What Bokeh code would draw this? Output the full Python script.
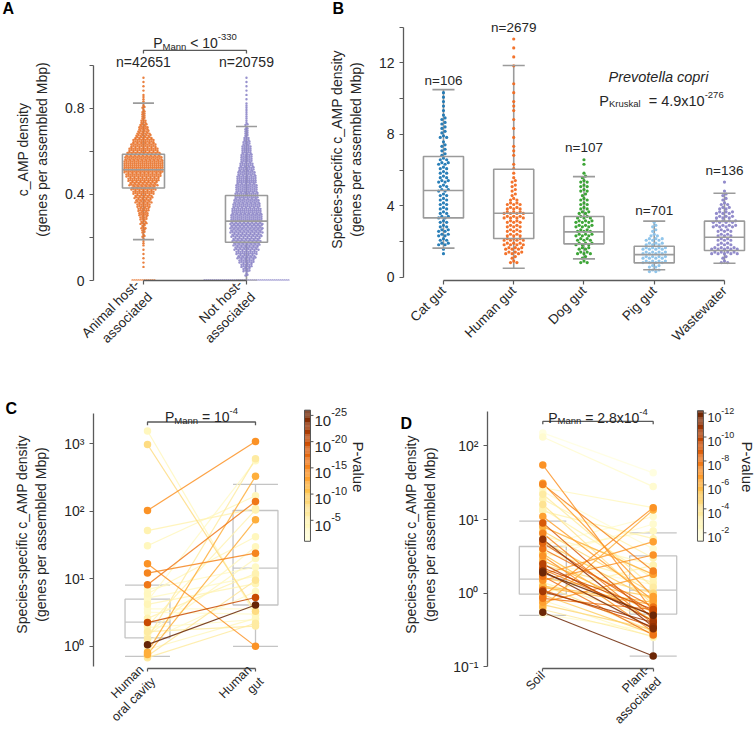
import math
import numpy as np
from bokeh.plotting import figure
from bokeh.models import Range1d, FixedTicker, ColumnDataSource, LinearScale
from bokeh.layouts import row, column
from bokeh.embed import file_html
from bokeh.resources import INLINE
from bokeh.core.properties import value
from bokeh.transform import linear_cmap

FONT = "Liberation Sans"
TXT = "#262626"
AXC = "#5a5a5a"
BOXC = "#9b9b9b"
BOXC_LIGHT = "#c4c4c4"

# ---------------- Panel A data ----------------
A_groups = ["Animal host-\nassociated", "Not host-\nassociated"]
A_n = ["n=42651", "n=20759"]
A_colors = ["#e8722a", "#8c85c8"]
A_bin_start = 0.02
A_bin_width = 0.02
A_animal_counts = [0, 0, 1, 1, 1, 1, 1, 2, 2, 3, 4, 5, 7, 8, 10, 12, 14, 17, 19, 22, 25, 29, 32, 36,
                   40, 40, 40, 38, 35, 30, 26, 22, 17, 13, 10, 7, 5, 4, 3, 3, 2, 2, 1, 1, 1, 1, 1]
A_not_counts = [3, 8, 12, 16, 19, 22, 25, 27, 29, 31, 33, 33, 33, 32, 31, 30, 28, 26, 24, 23, 22, 21, 20, 19,
                17, 15, 13, 12, 11, 10, 9, 7, 5, 4, 3, 3, 2, 2, 2, 2, 1, 1, 1, 1, 1, 1, 1]
A_zero_counts = [12, 43]
A_q1 = [0.43, 0.178]
A_med = [0.515, 0.276]
A_q3 = [0.587, 0.395]
A_lo = [0.19, 0.0]
A_hi = [0.825, 0.716]
A_yticks = [0, 0.2, 0.4, 0.6, 0.8, 1]
A_ylabels = ["0", "", "0.4", "", "0.8", ""]

# ---------------- Panel B data ----------------
B_groups = ["Cat gut", "Human gut", "Dog gut", "Pig gut", "Wastewater"]
B_n = ["n=106", "n=2679", "n=107", "n=701", "n=136"]
B_colors = ["#1f78b4", "#f26b21", "#33a02c", "#8ac2ea", "#8c85c8"]
B_bin_start = 0.25
B_bin_width = 0.5
B_counts = [
    [0, 0, 2, 7, 8, 6, 7, 6, 6, 7, 7, 6, 7, 4, 3, 5, 4, 3, 2, 2, 1],
    [0, 5, 12, 14, 10, 10, 14, 10, 5, 4, 3, 2, 1, 2, 1, 1, 1, 1, 2, 1, 1, 1, 0, 1, 1, 1, 1],
    [0, 5, 9, 11, 11, 12, 9, 6, 5, 6, 5, 1, 2],
    [8, 16, 16, 12, 5, 3],
    [0, 5, 18, 10, 10, 16, 12, 7, 4, 1, 1],
]
B_q1 = [3.33, 2.18, 1.88, 0.82, 1.51]
B_med = [4.86, 3.59, 2.55, 1.28, 2.25]
B_q3 = [6.76, 6.05, 3.41, 1.75, 3.15]
B_lo = [1.64, 0.52, 1.04, 0.43, 0.80]
B_hi = [10.5, 11.85, 5.64, 3.15, 4.71]
B_yticks = [0, 2, 4, 6, 8, 10, 12, 14]
B_ylabels = ["0", "", "4", "", "8", "", "12", ""]

# ---------------- Panel C data ----------------
C_groups = ["Human\noral cavity", "Human\ngut"]
C_oral = [1550, 980, 103, 52, 31, 16.8, 12.2, 8.2, 7.0, 6.0, 5.2, 4.7, 4.2, 3.2, 2.6,
          2.25, 1.9, 1.65, 1.45, 1.3, 1.06, 0.82, 0.76, 0.72, 0.68, 1.2, 1.55, 3.6, 2.0, 0.9]
C_gut = [2.9, 3.3, 1080, 110, 170, 1.0, 24, 140, 15, 42, 11, 560, 8.5, 3.0, 12,
         5.3, 2.5, 2.0, 20, 600, 4.1, 330, 75, 9.5, 2.2, 6.5, 30, 3.6, 105, 2.6]
C_nlog10p = [4, 8, 14, 5, 4, 14, 15, 16, 3.5, 4, 3.5, 3.5, 4.5, 3, 5,
             20, 3.5, 6, 4, 6, 26, 12, 12, 7, 6, 3.5, 4, 3, 5, 4]
C_q1 = [1.34, 4.1]
C_med = [2.29, 14.4]
C_q3 = [5.0, 103]
C_lo = [0.71, 1.0]
C_hi = [8.07, 252]
C_yticks = [1, 10, 100, 1000]
C_ylabels = ["10⁰", "10¹", "10²", "10³"]
C_cbar_ticks = [5, 10, 15, 20, 25]
C_cbar_range = [1.0, 26.0]

# ---------------- Panel D data ----------------
D_groups = ["Soil", "Plant-\nassociated"]
D_soil = [150, 132, 55, 31, 27, 22, 19, 16, 13, 9.0, 8.0, 6.5, 6.0, 5.4, 5.0, 4.5, 4.0, 3.6, 3.2, 3.0,
          2.8, 2.5, 2.4, 2.2, 2.0, 1.9, 1.8, 1.7, 1.6, 1.5, 1.4, 1.3, 1.2, 1.1, 1.05, 1.0, 0.95, 0.9,
          0.85, 0.8, 0.75, 0.7, 0.65, 0.6, 0.55, 0.52, 3.4, 2.6, 7.0, 11, 24, 14, 4.8, 3.8, 2.1, 1.25, 30]
D_plant = [43, 28, 0.56, 0.9, 14.5, 1.2, 3.0, 0.7, 5.5, 0.45, 1.8, 0.38, 2.4, 0.35, 0.8, 11, 0.65,
           1.4, 0.3, 8.7, 0.55, 0.42, 1.0, 0.6, 0.33, 0.5, 5.0, 0.27, 0.9, 3.3, 0.45, 0.3, 0.7, 0.35,
           0.4, 2.4, 0.28, 14.5, 0.6, 0.25, 1.8, 0.32, 13.5, 0.26, 0.14, 0.3, 0.42, 1.3, 1.0, 0.8,
           4.0, 1.6, 0.55, 7.0, 0.5, 0.75, 2.0]
D_nlog10p = [1.5, 2.0, 7.0, 6.5, 2.5, 3.5, 3.0, 4.0, 3.0, 9.0, 6.0, 7.5, 2.5, 11.0, 5.0, 2.0, 8.0,
             3.0, 7.0, 2.0, 6.0, 10.0, 4.0, 9.5, 11.5, 12.0, 6.5, 8.0, 5.0, 7.0, 3.0, 4.0, 6.0, 9.0,
             10.5, 3.0, 5.0, 7.0, 8.0, 2.5, 6.5, 4.5, 6.0, 3.5, 12.0, 2.0, 5.5, 2.0, 4.5, 6.5,
             2.0, 3.0, 8.5, 2.5, 7.5, 5.5, 7.5]
D_q1 = [0.97, 0.52]
D_med = [1.55, 1.1]
D_q3 = [4.3, 3.2]
D_lo = [0.5, 0.14]
D_hi = [9.5, 6.6]
D_yticks = [0.1, 1, 10, 100]
D_ylabels = ["10⁻¹", "10⁰", "10¹", "10²"]
D_cbar_ticks = [2, 4, 6, 8, 10, 12]
D_cbar_range = [1.3, 12.2]

# ---------------- helpers ----------------
YLORBR = ["#ffffe5", "#fff7bc", "#fee391", "#fec44f", "#fe9929", "#ec7014", "#cc4c02", "#993404", "#662506"]


def interp_palette(cols, n):
    rgb = np.array([[int(c[i:i + 2], 16) for i in (1, 3, 5)] for c in cols], dtype=float)
    pos = np.linspace(0, 1, len(cols))
    out = []
    for t in np.linspace(0, 1, n):
        r = [np.interp(t, pos, rgb[:, k]) for k in range(3)]
        out.append("#%02x%02x%02x" % tuple(int(round(v)) for v in r))
    return out


PAL = interp_palette(YLORBR, 256)

CW = {' ': .278, '=': .584, '<': .584, 'x': .5, '.': .278, '-': .333, 'P': .667, 'M': .833,
      'a': .556, 'n': .556, 'K': .667, 'r': .333, 'u': .556, 's': .5, 'k': .5, 'l': .222}


def tw(t, size):
    return sum(CW.get(c, 0.556) for c in t) * size


def rich(p, x, y, pieces, align="center", y_range_name="default"):
    total = sum(tw(t, s) for t, s, _ in pieces)
    cur = -total / 2 if align == "center" else 0.0
    for t, s, dy in pieces:
        lead = len(t) - len(t.lstrip(" "))
        cur += tw(" " * lead, s)
        t2 = t.lstrip(" ")
        p.text(x=[x], y=[y], text=[t2], x_offset=cur, y_offset=dy, text_font_size="%gpx" % s,
               text_font=value(FONT), text_color=TXT, text_align="left", text_baseline="alphabetic",
               y_range_name=y_range_name)
        cur += tw(t2, s)


def swarm(center, counts, start, bw, dx, rows):
    xs, ys = [], []
    for i, c in enumerate(counts):
        lo = start + i * bw
        for r in range(rows):
            k = c // rows + (1 if r < c % rows else 0)
            yy = lo + (r + 0.5) * bw / rows
            for j in range(k):
                xs.append(center + (j - (k - 1) / 2) * dx)
                ys.append(yy + ((j % 2) - 0.5) * bw / rows * 0.35)
    return xs, ys


def make_fig(w, h, xr, yr, mb, letter, letter_offset, letter_standoff, valign="bottom", log=False):
    p = figure(width=w, height=h, x_range=Range1d(*xr), y_range=Range1d(*yr),
               y_axis_type="log" if log else "linear",
               min_border_left=mb[0], min_border_right=mb[1], min_border_top=mb[2], min_border_bottom=mb[3],
               output_backend="svg", toolbar_location=None)
    p.outline_line_color = None
    p.xgrid.visible = False
    p.ygrid.visible = False
    p.background_fill_color = "white"
    p.border_fill_color = "white"
    p.title.text = letter
    p.title.align = "left"
    p.title.vertical_align = valign
    p.title.offset = letter_offset
    p.title.standoff = letter_standoff
    p.title.text_font = FONT
    p.title.text_font_size = "16px"
    p.title.text_font_style = "bold"
    p.title.text_color = "black"
    for ax in p.axis:
        ax.axis_line_color = AXC
        ax.axis_line_width = 1.3
        ax.major_tick_line_color = AXC
        ax.major_tick_line_width = 1.2
        ax.major_tick_out = 4
        ax.major_tick_in = 0
        ax.minor_tick_line_color = None
        ax.major_label_text_font = FONT
        ax.major_label_text_font_size = "14px"
        ax.major_label_text_color = TXT
        ax.axis_label_text_font = FONT
        ax.axis_label_text_font_size = "14px"
        ax.axis_label_text_font_style = "normal"
        ax.axis_label_text_color = TXT
        ax.major_label_standoff = 5
        ax.axis_label_standoff = 12
    return p


def setup_axes(p, groups, ybounds, yticks, ylabels, ytitle, fs="13.5px", standoff=4, tick_out=4):
    n = len(groups)
    p.xaxis.ticker = FixedTicker(ticks=list(range(n)))
    p.xaxis.major_label_overrides = {i: s for i, s in enumerate(groups)}
    p.xaxis.major_label_orientation = math.pi / 4
    p.xaxis.major_label_text_font_size = fs
    p.xaxis.major_label_standoff = standoff
    p.xaxis.major_tick_out = tick_out
    p.xaxis.bounds = (0, n - 1)
    p.yaxis.ticker = FixedTicker(ticks=yticks)
    p.yaxis.major_label_overrides = dict(zip(yticks, ylabels))
    p.yaxis.bounds = ybounds
    p.yaxis.axis_label = ytitle


def bracket(p, y, ytick):
    p.line(x=[0, 0, 1, 1], y=[ytick, y, y, ytick], line_color=AXC, line_width=1.3)


def boxes(p, q1, med, q3, lo, hi, hw, cw, color, lw, whisk=True, body=True):
    n = len(q1)
    xs = list(range(n))
    if whisk:
        p.segment(x0=xs, y0=q3, x1=xs, y1=hi, line_color=color, line_width=lw)
        p.segment(x0=xs, y0=q1, x1=xs, y1=lo, line_color=color, line_width=lw)
    if body:
        p.quad(left=[x - hw for x in xs], right=[x + hw for x in xs], bottom=q1, top=q3,
               fill_color=None, line_color=color, line_width=lw)
        p.segment(x0=[x - hw for x in xs], y0=med, x1=[x + hw for x in xs], y1=med,
                  line_color=color, line_width=lw)
        p.segment(x0=[x - cw for x in xs], y0=hi, x1=[x + cw for x in xs], y1=hi,
                  line_color=color, line_width=lw)
        p.segment(x0=[x - cw for x in xs], y0=lo, x1=[x + cw for x in xs], y1=lo,
                  line_color=color, line_width=lw)


def colorbar(p, x0, x1, lo, hi, ticks, px_unit_x, fs, sfs):
    v = np.linspace(lo, hi, 121)
    src = ColumnDataSource(dict(b=v[:-1], t=v[1:], v=(v[:-1] + v[1:]) / 2))
    p.quad(left=x0, right=x1, bottom="b", top="t", source=src,
           fill_color=linear_cmap("v", PAL, lo, hi), line_color=None, y_range_name="cb")
    p.quad(left=[x0], right=[x1], bottom=[lo], top=[hi], fill_color=None,
           line_color="#555555", line_width=1, y_range_name="cb")
    p.segment(x0=[x1] * len(ticks), y0=ticks, x1=[x1 + 3 * px_unit_x] * len(ticks), y1=ticks,
              line_color="#555555", line_width=1, y_range_name="cb")
    for t in ticks:
        rich(p, x1 + 4 * px_unit_x, t, [("10", fs, 0.36 * fs), ("-%d" % t, sfs, -0.2 * fs)],
             align="left", y_range_name="cb")


def paired(p, left, right, nlp, lo, hi):
    order = sorted(range(len(left)), key=lambda i: nlp[i])
    L = [left[i] for i in order]
    R = [right[i] for i in order]
    N = [nlp[i] for i in order]
    lsrc = ColumnDataSource(dict(xs=[[0, 1] for _ in L], ys=[[a, b] for a, b in zip(L, R)], v=N))
    p.multi_line(xs="xs", ys="ys", source=lsrc, line_color=linear_cmap("v", PAL, lo, hi),
                 line_width=1.2, line_alpha=0.85)
    psrc = ColumnDataSource(dict(x=[0] * len(L) + [1] * len(R), y=L + R, v=N + N))
    p.scatter(x="x", y="y", source=psrc, size=7.5, fill_color=linear_cmap("v", PAL, lo, hi),
              line_color=None, fill_alpha=1.0)


# ================= Panel A =================
pA = make_fig(320, 388, (-0.485, 1.602), (0, 1.2186), (93, 12, 18, 108), "A", -91, -1.5, valign="top")
setup_axes(pA, A_groups, (0, 1), A_yticks, A_ylabels, "c_AMP density\n(genes per assembled Mbp)")
boxes(pA, A_q1, A_med, A_q3, A_lo, A_hi, 0.204, 0.102, BOXC, 1.6, whisk=True, body=False)
dxA = 2.0 / 103
for i, counts in enumerate([A_animal_counts, A_not_counts]):
    xs, ys = swarm(i, counts, A_bin_start, A_bin_width, dxA, 2)
    k = A_zero_counts[i]
    xs += [i + (j - (k - 1) / 2) * dxA for j in range(k)]
    ys += [0.0] * k
    pA.scatter(xs, ys, size=2.4, fill_color=A_colors[i], line_color=None, fill_alpha=0.9)
boxes(pA, A_q1, A_med, A_q3, A_lo, A_hi, 0.204, 0.102, BOXC, 1.6, whisk=False, body=True)
pA.text(x=[0, 1], y=[1.014, 1.014], text=A_n, text_align="center", text_baseline="middle",
        text_font=value(FONT), text_font_size="14px", text_color=TXT)
bracket(pA, 1.07, 1.056)
rich(pA, 0.5, 1.1037, [("P", 14, 0), ("Mann", 9.5, 3), (" < 10", 14, 0), ("-330", 9.5, -6)])

# ================= Panel B =================
pB = make_fig(436, 388, (-0.569, 4.456), (-0.168, 14.478), (83, 0, 18, 108), "B", -71, -1.5, valign="top")
setup_axes(pB, B_groups, (0, 14), B_yticks, B_ylabels,
           "Species-specific c_AMP density\n(genes per assembled Mbp)")
boxes(pB, B_q1, B_med, B_q3, B_lo, B_hi, 0.285, 0.157, BOXC, 1.6, whisk=True, body=False)
dxB = 3.2 / 70.25
tops = []
for i, counts in enumerate(B_counts):
    xs, ys = swarm(i, counts, B_bin_start, B_bin_width, dxB, 2)
    pB.scatter(xs, ys, size=3.2, fill_color=B_colors[i], line_color=None, fill_alpha=0.95)
    tops.append(max(ys))
boxes(pB, B_q1, B_med, B_q3, B_lo, B_hi, 0.285, 0.157, BOXC, 1.6, whisk=False, body=True)
pB.text(x=list(range(5)), y=tops, text=B_n, text_align="center", text_baseline="middle",
        y_offset=-12, text_font=value(FONT), text_font_size="13.5px", text_color=TXT)
pB.text(x=[3.06], y=[11.18], text=["Prevotella copri"], text_align="center", text_baseline="middle",
        text_font=value(FONT), text_font_size="14.5px", text_font_style="italic", text_color=TXT)
rich(pB, 3.103, 9.87, [("P", 14.5, 0), ("Kruskal", 9.5, 3), ("  = 4.9x10", 14.5, 0), ("-276", 9.5, -6)])

# ================= Panel C =================
pC = make_fig(384, 352, (-0.5, 2.0185), (0.470, 4391), (93, 19, 12, 70), "C", -88, -32, log=True)
pC.extra_y_ranges = {"cb": Range1d(-23.25, 27.84)}
pC.extra_y_scales = {"cb": LinearScale()}
setup_axes(pC, C_groups, (0.508, 2858), C_yticks, C_ylabels,
           "Species-specific c_AMP density\n(genes per assembled Mbp)", fs="12.5px", standoff=2, tick_out=3)
boxes(pC, C_q1, C_med, C_q3, C_lo, C_hi, 0.208, 0.208, BOXC_LIGHT, 1.3)
paired(pC, C_oral, C_gut, C_nlog10p, C_cbar_range[0], C_cbar_range[1])
bracket(pC, 2108, 1884)
rich(pC, 0.5, 2472, [("P", 14, 0), ("Mann", 9.5, 3), (" = 10", 14, 0), ("-4", 9.5, -6)])
colorbar(pC, 1.4537, 1.509, C_cbar_range[0], C_cbar_range[1], C_cbar_ticks, 1 / 108, 15, 11)
pC.text(x=[1.954], y=[15.16], text=["P-value"], angle=-math.pi / 2, text_align="center",
        text_baseline="middle", text_font=value(FONT), text_font_size="15px", text_color=TXT,
        y_range_name="cb")

# ================= Panel D =================
pD = make_fig(372, 352, (-0.5009, 1.9357), (0.09487, 413.0), (103, 0, 12, 70), "D", -87, -62, log=True)
pD.extra_y_ranges = {"cb": Range1d(-9.335, 13.05)}
pD.extra_y_scales = {"cb": LinearScale()}
setup_axes(pD, D_groups, (0.1, 295), D_yticks, D_ylabels,
           "Species-specific c_AMP density\n(genes per assembled Mbp)", fs="12.5px", standoff=2, tick_out=3)
boxes(pD, D_q1, D_med, D_q3, D_lo, D_hi, 0.213, 0.213, BOXC_LIGHT, 1.3)
paired(pD, D_soil, D_plant, D_nlog10p, D_cbar_range[0], D_cbar_range[1])
bracket(pD, 215, 196)
rich(pD, 0.5, 240, [("P", 14, 0), ("Mann", 9.5, 3), (" = 2.8x10", 14, 0), ("-4", 9.5, -6)])
colorbar(pD, 1.401, 1.455, D_cbar_range[0], D_cbar_range[1], D_cbar_ticks, 1 / 110.4, 12.5, 9)
pD.text(x=[1.856], y=[7.5], text=["P-value"], angle=-math.pi / 2, text_align="center",
        text_baseline="middle", text_font=value(FONT), text_font_size="15px", text_color=TXT,
        y_range_name="cb")

layout = column(row(pA, pB), row(pC, pD))
open("out.html", "w").write(file_html(layout, INLINE))
